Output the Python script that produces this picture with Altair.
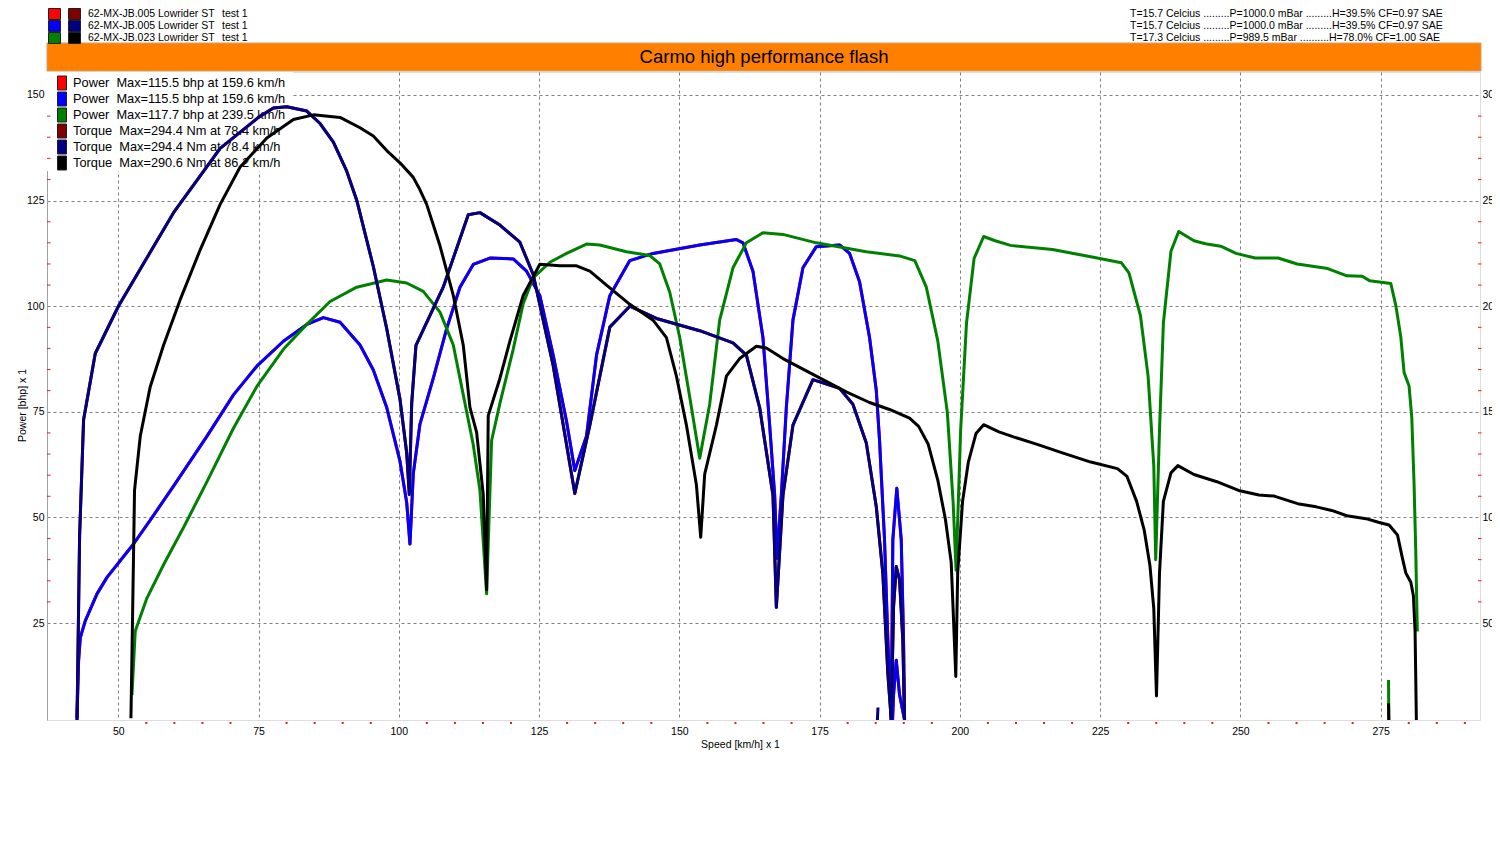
import altair as alt
import pandas as pd

# ---------------- data ----------------
# 62-MX-JB.005 Lowrider ST test 1 -- power [bhp] vs speed [km/h]  (both .005 runs identical)
P005_SPEED = [42.65, 42.93, 43.23, 44.12, 46.21, 47.99, 52.72, 56.29, 59.85, 65.79, 70.53, 74.70, 79.43,
              83.60, 86.56, 89.53, 93.09, 95.46, 97.85, 100.21, 101.41, 101.99, 102.58, 103.77, 106.14,
              108.53, 110.90, 113.27, 116.24, 120.39, 122.77, 125.14, 127.51, 129.90, 131.37, 133.46,
              135.24, 137.61, 141.17, 145.32, 153.63, 160.17, 161.34, 163.12, 164.90, 166.10, 166.99,
              167.40, 168.18, 169.07, 170.25, 172.03, 174.41, 178.56, 180.34, 182.12, 183.90, 185.10,
              185.68, 186.57, 187.16, 187.77, 188.05, 188.76, 189.55, 189.96, 190.14, 189.25, 188.66,
              188.18, 188.00]
P005_POWER = [2.5, 16, 21.5, 25.5, 31.9, 35.8, 43.7, 50.5, 57.4, 69.2, 79, 85.8, 91.7,
              95.7, 97.3, 96.2, 90.8, 84.9, 76, 63.3, 53.5, 43.7, 60.3, 72.1, 82.9,
              94.7, 104.5, 109.9, 111.4, 111.2, 108.3, 102.5, 88.4, 72.7, 61.1, 69.3,
              88.4, 102.5, 110.8, 112.5, 114.5, 115.8, 115, 108.3, 92.6, 71.8, 55.3,
              40.3, 55.3, 76, 96.7, 109.1, 114.1, 114.5, 112.5, 105.8, 92.6, 80.1,
              68.3, 44.7, 21, 2, 44.7, 56.9, 44.7, 21, 2, 8, 16.2,
              8, 2]

# 62-MX-JB.005 torque [Nm]
T005_SPEED = [42.65, 43.11, 43.82, 45.90, 50.05, 59.85, 68.16, 74.98, 77.65, 80.04, 83.60, 85.97, 88.34,
              90.72, 92.50, 95.46, 97.85, 100.21, 101.41, 101.87, 102.30, 103.06, 107.92, 112.38, 114.46,
              118.02, 121.58, 123.95, 127.51, 131.37, 134.05, 137.61, 141.17, 145.92, 153.63, 159.56,
              161.95, 164.32, 166.69, 167.29, 168.47, 170.25, 173.81, 178.56, 180.93, 183.31, 185.10,
              186.27, 187.16, 187.77, 188.18, 188.66, 189.25, 189.83, 190.14]
T005_TORQUE = [4, 91.2, 146.2, 177.6, 200.1, 244.3, 274.7, 289.4, 293.8, 294.4, 292.4, 286.5, 277.7,
               263.9, 250.2, 218.8, 189.3, 156, 130.5, 110.9, 154.1, 181.5, 209, 243.3, 244.3,
               238.4, 230.3, 215, 171.9, 111.3, 143.7, 190.1, 200, 194.2, 188.4, 182.6,
               176.8, 151.9, 110.5, 57.4, 110.5, 143.7, 165.2, 161.1, 153.6, 135.4, 105.1,
               73.5, 26.2, 4, 57.7, 76.7, 70.4, 42, 4]
T005_FRAG_SPEED = [185.30, 185.40]
T005_FRAG_TORQUE = [4, 10]

# 62-MX-JB.023 power
P023_SPEED = [52.44, 53.03, 55.11, 58.07, 61.63, 65.79, 70.53, 74.70, 79.43, 83.60, 87.75, 92.50, 97.85,
              101.41, 104.36, 107.34, 109.71, 111.49, 113.27, 114.46, 115.65, 116.54, 118.02, 120.39,
              122.17, 123.95, 126.92, 129.90, 133.46, 135.83, 140.58, 144.73, 146.51, 148.29, 150.07,
              151.85, 153.63, 155.41, 157.19, 159.56, 161.95, 164.90, 168.47, 174.41, 183.31, 189.25,
              191.97, 194.02, 196.06, 197.76, 198.79, 199.32, 200.14, 201.18, 202.53, 204.24, 206.29,
              209.01, 216.51, 223.33, 228.77, 230.13, 232.18, 233.55, 234.56, 234.90, 235.58, 236.27,
              237.62, 239.00, 241.72, 243.77, 246.49, 249.22, 252.62, 256.72, 260.11, 265.56, 268.98,
              271.71, 273.06, 276.80, 277.69, 278.58, 279.17, 280.06, 280.54, 280.95, 281.25, 281.53]
P023_POWER = [8, 23.1, 30.9, 38.8, 47.6, 58.4, 71.1, 81, 89.8, 95.7, 101.1, 104.5, 106.2,
              105.5, 103.5, 98.6, 90.8, 79, 67.2, 56.4, 31.9, 68.2, 77, 89.8,
              100.6, 106.7, 110.4, 112.5, 114.7, 114.5, 112.9, 112, 110, 103.3, 92.6,
              78.5, 64, 76.8, 96.7, 109.1, 115, 117.4, 117, 115, 112.9, 111.9,
              110.8, 104.5, 91.8, 74.9, 53.8, 37.5, 70.7, 96, 111.3, 116.5, 115.5,
              114.4, 113.4, 111.7, 110.3, 107.9, 97.8, 83.4, 62.2, 40, 70.7, 96,
              113, 117.7, 115.5, 114.8, 114.2, 112.5, 111.4, 111.4, 110, 108.9, 107.2,
              107.1, 106, 105.4, 100.2, 92.8, 84.3, 81.1, 73.7, 57.9, 42, 23]
P023_FRAG_SPEED = [276.40, 276.45]
P023_FRAG_POWER = [11.5, 2]

# 62-MX-JB.023 torque
T023_SPEED = [52.26, 52.44, 52.90, 53.92, 55.70, 58.07, 61.04, 64.60, 68.16, 71.72, 76.48, 81.21, 84.78,
              89.53, 93.09, 95.46, 97.85, 100.21, 102.58, 103.77, 104.97, 107.34, 109.71, 111.49, 112.68,
              113.87, 115.05, 115.65, 115.94, 118.02, 119.80, 122.17, 125.14, 128.70, 131.68, 134.05,
              137.02, 141.17, 145.32, 147.70, 149.48, 151.26, 153.04, 153.81, 154.52, 156.61, 158.39,
              160.75, 163.73, 165.51, 168.47, 171.44, 175.00, 179.75, 183.90, 187.46, 191.03, 192.65,
              194.36, 196.06, 197.42, 198.45, 198.79, 199.27, 199.61, 200.48, 201.51, 202.87, 204.24,
              206.96, 209.69, 213.78, 217.86, 223.33, 228.08, 229.79, 231.50, 232.85, 233.88, 234.56,
              235.04, 235.58, 236.27, 237.62, 238.85, 241.72, 245.80, 249.89, 253.29, 256.02, 260.47,
              263.52, 266.26, 268.98, 272.38, 274.59, 276.50, 277.99, 278.88, 279.48, 280.37, 280.83,
              281.13, 281.36]
T023_TORQUE = [4.9, 34.4, 112.8, 138.4, 161.9, 181.5, 203.1, 226.7, 248.2, 265.9, 279.6, 288.4, 290.6,
               289.4, 284.5, 280.6, 273.7, 267.9, 261, 255.1, 248.2, 228.6, 205.1, 181.5, 152.1,
               140.3, 110.9, 65.8, 148.2, 165.8, 183.5, 205.1, 219.9, 219.1, 219.1, 216.6,
               210, 200.9, 193.4, 185.1, 166.9, 143.7, 115.5, 90.6, 120.5, 143.7, 166.9,
               175.2, 181, 180.2, 175.2, 171, 166.1, 159.4, 154.4, 151.1, 147, 143.1,
               134.6, 117.7, 99.1, 78.8, 56.8, 24.7, 73.7, 107.6, 126.2, 139.7, 143.9,
               140.5, 138, 134.6, 130.9, 126.2, 123.1, 119.4, 107.6, 94, 77.1, 56.8,
               15.4, 73.7, 107.6, 121.1, 124.5, 120.3, 116.9, 112.6, 110.6, 110.1, 106.3,
               105, 103.3, 100.8, 99.4, 97.7, 96.4, 91.7, 80.6, 73.7, 69.3, 62.9,
               46, 3.7]
T023_FRAG_SPEED = [276.40, 276.45]
T023_FRAG_TORQUE = [12, 4]

X_TICKS = [50, 75, 100, 125, 150, 175, 200, 225, 250, 275]
X_MINOR = [v for v in range(55, 291, 5) if v % 25]
P_TICKS = [25, 50, 75, 100, 125, 150]
P_MINOR = [v for v in range(30, 150, 5) if v % 25]
T_TICKS = [50, 100, 150, 200, 250, 300]
T_MINOR = [v for v in range(60, 300, 10) if v % 50]

HEADER_FILES = ["62-MX-JB.005 Lowrider ST", "62-MX-JB.005 Lowrider ST", "62-MX-JB.023 Lowrider ST"]
HEADER_TEST = ["test 1", "test 1", "test 1"]
HEADER_COND = ["T=15.7 Celcius .........P=1000.0 mBar .........H=39.5% CF=0.97 SAE",
               "T=15.7 Celcius .........P=1000.0 mBar .........H=39.5% CF=0.97 SAE",
               "T=17.3 Celcius .........P=989.5 mBar ..........H=78.0% CF=1.00 SAE"]
HEADER_POWER_COL = ["#FF0000", "#0000FF", "#008000"]
HEADER_TORQUE_COL = ["#800000", "#000080", "#000000"]
LEGEND_TEXT = ["Power\u00a0 Max=115.5 bhp at 159.6 km/h",
               "Power\u00a0 Max=115.5 bhp at 159.6 km/h",
               "Power\u00a0 Max=117.7 bhp at 239.5 km/h",
               "Torque\u00a0 Max=294.4 Nm at 78.4 km/h",
               "Torque\u00a0 Max=294.4 Nm at 78.4 km/h",
               "Torque\u00a0 Max=290.6 Nm at 86.2 km/h"]
LEGEND_COL = ["#FF0000", "#0000FF", "#008000", "#800000", "#000080", "#000000"]
TITLE = "Carmo high performance flash"

# ---------------- layout ----------------
F = "Liberation Sans"
PW, PH = 1433, 648
X_DOM = [37.3, 292.7]
P_DOM = [2.036, 155.445]
T_DOM = [4.072, 310.89]
GRID = "#808080"
MINOR_RED = "#E02020"

xscale = alt.Scale(domain=X_DOM, nice=False, zero=False)
pscale = alt.Scale(domain=P_DOM, nice=False, zero=False)
tscale = alt.Scale(domain=T_DOM, nice=False, zero=False)

# identical x-axis spec on every x-encoded layer so that they merge into one axis
x_axis = alt.Axis(orient="bottom", values=X_TICKS, title="Speed [km/h] x 1", grid=True, gridColor=GRID,
                  gridDash=[3, 3], gridWidth=1, ticks=False, domain=False, labelPadding=6, labelFont=F,
                  labelFontSize=10.5, labelColor="black", titleFont=F, titleFontSize=10.5,
                  titleFontWeight="normal", titleColor="black", titlePadding=3, titleX=693)
p_axis = alt.Axis(orient="left", values=P_TICKS, title="Power [bhp] x 1", grid=True, gridColor=GRID,
                  gridDash=[3, 3], gridWidth=1, ticks=False, domain=True, domainColor="#A0A0A0",
                  labelPadding=3, labelFont=F, labelFontSize=10.5, labelColor="black", titleFont=F,
                  titleFontSize=10.5, titleFontWeight="normal", titleColor="black",
                  titleX=-25, titleY=333, titleAngle=270, titleBaseline="middle", titleAlign="center")
t_axis = alt.Axis(orient="right", values=T_TICKS, title=None, grid=False, ticks=False, domain=False,
                  labelPadding=2, labelFont=F, labelFontSize=10.5, labelColor="black")


def curve_df(segments):
    rows = []
    for s, (xs, ys) in enumerate(segments):
        assert len(xs) == len(ys), (len(xs), len(ys))
        for i, (x, y) in enumerate(zip(xs, ys)):
            rows.append({"seg": s, "idx": i, "speed": x, "value": y})
    return pd.DataFrame(rows)


def curve_layer(segments, color, scale, axis):
    return alt.Chart(curve_df(segments)).mark_line(
        strokeWidth=3, clip=True, strokeJoin="round", strokeCap="butt"
    ).encode(
        x=alt.X("speed:Q", scale=xscale, axis=x_axis),
        y=alt.Y("value:Q", scale=scale, axis=axis),
        detail="seg:N",
        order="idx:Q",
        color=alt.value(color),
    )


layers = []

# legend box (covers the grid, under the curves)
layers.append(alt.Chart(pd.DataFrame({"a": [0]})).mark_rect(fill="white").encode(
    x=alt.value(0), x2=alt.value(246), y=alt.value(0), y2=alt.value(99)))
leg = pd.DataFrame({"label": LEGEND_TEXT, "col": LEGEND_COL})
leg["yc"] = [11 + 16 * i for i in range(len(leg))]
leg["y0"] = leg["yc"] - 7
leg["y1"] = leg["yc"] + 7
layers.append(alt.Chart(leg).mark_rect(stroke="#202020", strokeWidth=1).encode(
    x=alt.value(10.5), x2=alt.value(19.5),
    y=alt.Y("y0:Q", scale=None), y2="y1:Q",
    fill=alt.Fill("col:N", scale=None)))
layers.append(alt.Chart(leg).mark_text(align="left", baseline="middle", font=F, fontSize=12.8,
                                       color="black").encode(
    x=alt.value(26), y=alt.Y("yc:Q", scale=None), text="label:N"))

# curves: power (left axis) then torque (right axis)
layers.append(curve_layer([(P005_SPEED, P005_POWER)], "#FF0000", pscale, p_axis))
layers.append(curve_layer([(P005_SPEED, P005_POWER)], "#0000FF", pscale, None))
layers.append(curve_layer([(P023_SPEED, P023_POWER), (P023_FRAG_SPEED, P023_FRAG_POWER)],
                          "#008000", pscale, None))
layers.append(curve_layer([(T005_SPEED, T005_TORQUE)], "#800000", tscale, t_axis))
layers.append(curve_layer([(T005_SPEED, T005_TORQUE), (T005_FRAG_SPEED, T005_FRAG_TORQUE)],
                          "#000080", tscale, None))
layers.append(curve_layer([(T023_SPEED, T023_TORQUE), (T023_FRAG_SPEED, T023_FRAG_TORQUE)],
                          "#000000", tscale, None))

# minor ticks
layers.append(alt.Chart(pd.DataFrame({"speed": X_MINOR})).mark_rule(color=MINOR_RED, strokeWidth=2).encode(
    x=alt.X("speed:Q", scale=xscale, axis=x_axis), y=alt.value(PH + 2), y2=alt.value(PH + 4)))
layers.append(alt.Chart(pd.DataFrame({"value": P_MINOR})).mark_rule(color=MINOR_RED, strokeWidth=1).encode(
    y=alt.Y("value:Q", scale=pscale, axis=None), x=alt.value(0), x2=alt.value(3.5)))
layers.append(alt.Chart(pd.DataFrame({"value": T_MINOR})).mark_rule(color=MINOR_RED, strokeWidth=1).encode(
    y=alt.Y("value:Q", scale=tscale, axis=None), x=alt.value(PW - 2), x2=alt.value(PW + 1.5)))

# orange title band
layers.append(alt.Chart(pd.DataFrame({"a": [0]})).mark_rect(fill="#FF8000", stroke="#D0A070",
                                                          strokeWidth=1).encode(
    x=alt.value(0), x2=alt.value(PW + 1), y=alt.value(-29), y2=alt.value(-1)))
layers.append(alt.Chart(pd.DataFrame({"t": [TITLE]})).mark_text(
    font=F, fontSize=18.5, color="black", align="center", baseline="middle").encode(
    x=alt.value(717), y=alt.value(-15), text="t:N"))

# header rows
hdr = pd.DataFrame({"file": HEADER_FILES, "test": HEADER_TEST, "cond": HEADER_COND,
                    "pc": HEADER_POWER_COL, "tc": HEADER_TORQUE_COL})
hdr["yc"] = [-58 + 12 * i for i in range(len(hdr))]
hdr["y0"] = hdr["yc"] - 5.5
hdr["y1"] = hdr["yc"] + 5.5
layers.append(alt.Chart(hdr).mark_rect(stroke="#202020", strokeWidth=1).encode(
    x=alt.value(1.5), x2=alt.value(13.5), y=alt.Y("y0:Q", scale=None), y2="y1:Q",
    fill=alt.Fill("pc:N", scale=None)))
layers.append(alt.Chart(hdr).mark_rect(stroke="#202020", strokeWidth=1).encode(
    x=alt.value(21.5), x2=alt.value(33.5), y=alt.Y("y0:Q", scale=None), y2="y1:Q",
    fill=alt.Fill("tc:N", scale=None)))
for field, xpos in (("file", 41), ("test", 175), ("cond", 1083)):
    layers.append(alt.Chart(hdr).mark_text(font=F, fontSize=10.5, color="black", align="left",
                                           baseline="middle").encode(
        x=alt.value(xpos), y=alt.Y("yc:Q", scale=None), text=f"{field}:N"))

chart = alt.layer(*layers).resolve_scale(y="independent").properties(
    width=PW, height=PH,
    padding={"left": 39, "top": 64, "right": 12, "bottom": 30},
    autosize=alt.AutoSizeParams(type="none"),
    background="white",
).configure_view(strokeWidth=0, stroke="transparent").configure_axis(
    domain=False, ticks=False
).configure(font=F)

chart.save("out.html", embed_options={"renderer": "svg", "actions": False})
